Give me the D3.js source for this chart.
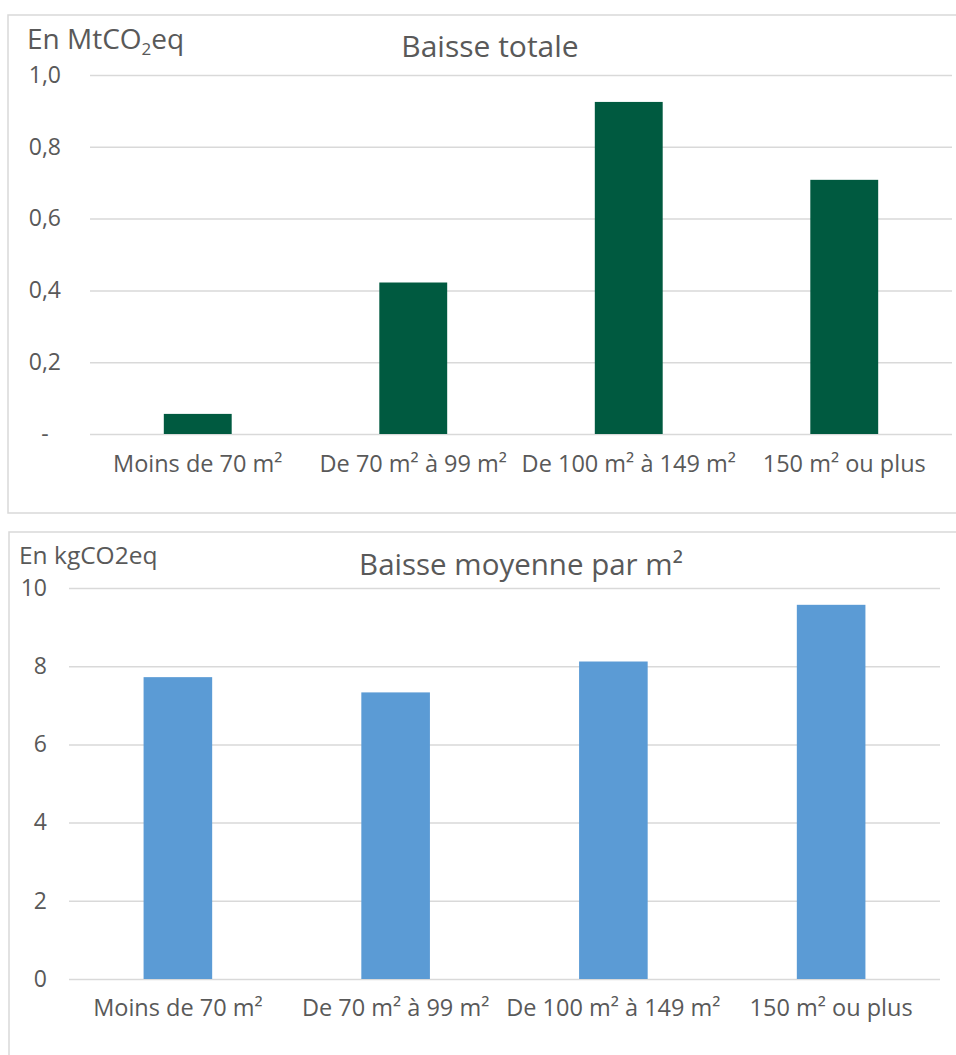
<!DOCTYPE html>
<html>
<head>
<meta charset="utf-8">
<script src="https://cdn.jsdelivr.net/npm/d3@7"></script>
<style>
  html, body { margin: 0; padding: 0; background: #fff; }
  svg { display: block; }
</style>
</head>
<body>
<svg id="chart" width="956" height="1055"></svg>
<script>
// Surface categories (shared by both panels)
const categories = ["Moins de 70 m²", "De 70 m² à 99 m²", "De 100 m² à 149 m²", "150 m² ou plus"];

// Total decrease, MtCO2eq
const totalValues = [0.056, 0.422, 0.925, 0.708];
const totalTicks = [0, 0.2, 0.4, 0.6, 0.8, 1.0];

// Average decrease per m², kgCO2eq
const perM2Values = [7.72, 7.33, 8.12, 9.57];
const perM2Ticks = [0, 2, 4, 6, 8, 10];

const FONT = "'Open Sans', 'Noto Sans', sans-serif";
const svg = d3.select("#chart").attr("font-family", FONT);
const textColor = "#595959";
const gridColor = "#d9d9d9";

function panel(cfg) {
  const g = svg.append("g");

  // frame
  g.append("rect")
    .attr("x", cfg.frame[0]).attr("y", cfg.frame[1])
    .attr("width", cfg.frame[2]).attr("height", cfg.frame[3])
    .attr("fill", "none").attr("stroke", gridColor).attr("stroke-width", 1.5);

  const x = d3.scaleBand()
    .domain(categories)
    .range([cfg.left, cfg.right])
    .paddingInner(0.685)
    .paddingOuter(0.3425);

  const y = d3.scaleLinear()
    .domain([0, cfg.max])
    .range([cfg.bottom, cfg.top]);

  // gridlines + tick labels
  const yAxis = d3.axisLeft(y)
    .tickValues(cfg.ticks)
    .tickSize(-(cfg.right - cfg.left))
    .tickPadding(cfg.left - cfg.labelRight)
    .tickFormat(cfg.fmt);

  const ya = g.append("g")
    .attr("transform", `translate(${cfg.left},0)`)
    .call(yAxis)
    .attr("font-family", FONT)
    .attr("font-size", cfg.tickSize);
  ya.select(".domain").remove();
  ya.selectAll(".tick line").attr("stroke", gridColor).attr("stroke-width", 1.5);
  ya.selectAll(".tick text").attr("fill", textColor);
  if (cfg.zeroDash) {
    ya.selectAll(".tick text").filter(d => d === 0)
      .attr("x", cfg.zeroDashX - cfg.left)
      .attr("text-anchor", "middle");
  }

  // bars
  g.append("g").selectAll("rect")
    .data(cfg.values)
    .join("rect")
    .attr("x", (d, i) => x(categories[i]))
    .attr("width", x.bandwidth())
    .attr("y", d => y(d))
    .attr("height", d => y(0) - y(d))
    .attr("fill", cfg.color);

  // category labels
  const xAxis = d3.axisBottom(x).tickSize(0).tickPadding(cfg.xLabelPad);
  const xa = g.append("g")
    .attr("transform", `translate(0,${cfg.bottom})`)
    .call(xAxis)
    .attr("font-family", FONT)
    .attr("font-size", cfg.catSize);
  xa.select(".domain").remove();
  xa.selectAll(".tick text").attr("fill", textColor);

  // title
  g.append("text")
    .attr("x", cfg.titleX).attr("y", cfg.titleY)
    .attr("text-anchor", "middle")
    .attr("fill", textColor)
    .attr("font-size", cfg.titleSize)
    .text(cfg.title);

  return g;
}

const totalPanel = panel({
  frame: [8, 15, 960, 498],
  left: 90, right: 952, top: 75, bottom: 434,
  max: 1.0, ticks: totalTicks,
  fmt: d => d === 0 ? "-" : d3.format(".1f")(d).replace(".", ","),
  labelRight: 61, tickSize: 23, zeroDash: true, zeroDashX: 45,
  values: totalValues, color: "#005A40",
  xLabelPad: 21, catSize: 23.5,
  title: "Baisse totale", titleX: 490, titleY: 57, titleSize: 30
});

// unit label with subscript
const unitTotal = totalPanel.append("text")
  .attr("x", 27).attr("y", 49)
  .attr("fill", textColor)
  .attr("font-size", 28);
unitTotal.append("tspan").text("En MtCO");
unitTotal.append("tspan").attr("dy", 6).attr("font-size", 17).text("2");
unitTotal.append("tspan").attr("dy", -6).text("eq");

const perM2Panel = panel({
  frame: [9, 532, 960, 540],
  left: 69, right: 940, top: 588, bottom: 979,
  max: 10, ticks: perM2Ticks,
  fmt: d3.format("d"),
  labelRight: 47, tickSize: 23, zeroDash: false,
  values: perM2Values, color: "#5B9BD5",
  xLabelPad: 20, catSize: 23.5,
  title: "Baisse moyenne par m²", titleX: 521, titleY: 575, titleSize: 29.5
});

perM2Panel.append("text")
  .attr("x", 19).attr("y", 564)
  .attr("fill", textColor)
  .attr("font-size", 24.5)
  .text("En kgCO2eq");
</script>
</body>
</html>
